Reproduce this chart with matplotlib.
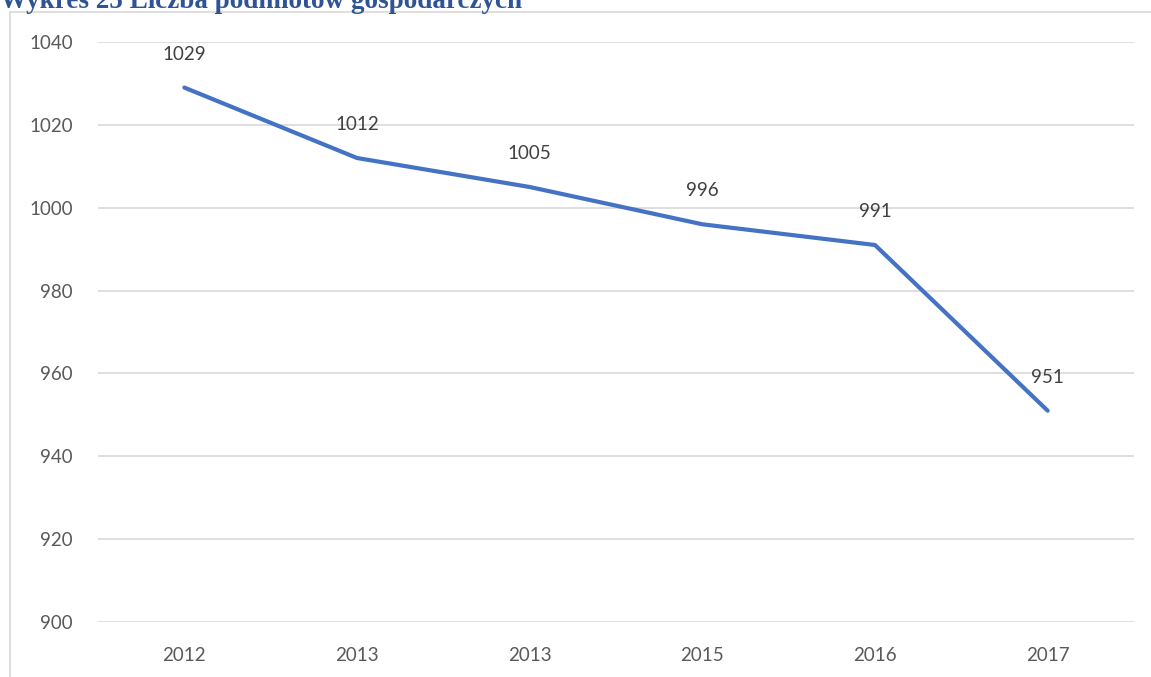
import matplotlib.pyplot as plt
from matplotlib.lines import Line2D

years = ['2012', '2013', '2013', '2015', '2016', '2017']
firms = [1029, 1012, 1005, 996, 991, 951]
yticks = [900, 920, 940, 960, 980, 1000, 1020, 1040]

W, H = 1151, 677
fig = plt.figure(figsize=(W / 100, H / 100), dpi=100)

# plot area in pixels: x 98..1134, y 42..622
ax = fig.add_axes([98 / W, 1 - 622 / H, (1134 - 98) / W, (622 - 42) / H])
x = list(range(len(years)))
ax.plot(x, firms, color='#4472C4', lw=3.0, solid_capstyle='round', solid_joinstyle='round')
for xi, v in zip(x, firms):
    ax.annotate(str(v), (xi, v), xytext=(0, 24), textcoords='offset points',
                ha='center', va='center', fontsize=13.5, color='#404040', family='Lato')

ax.set_xlim(-0.5, len(years) - 0.5)
ax.set_ylim(900, 1040)
ax.set_yticks(yticks)
ax.set_xticks(x)
ax.set_xticklabels(years)
ax.grid(axis='y', color='#D9D9D9', lw=1.2)
ax.set_axisbelow(True)
for s in ax.spines.values():
    s.set_visible(False)
ax.tick_params(length=0, labelsize=13.5, labelcolor='#595959', pad=0)
ax.tick_params(axis='y', pad=18)
ax.tick_params(axis='x', pad=18)
for lab in ax.get_xticklabels() + ax.get_yticklabels():
    lab.set_family('Lato')

# chart frame (partly outside the image)
fig.add_artist(Line2D([10 / W, 10 / W], [0, 1 - 12 / H], color='#D9D9D9', lw=1.2))
fig.add_artist(Line2D([10 / W, 1], [1 - 12 / H, 1 - 12 / H], color='#D9D9D9', lw=1.2))

fig.text(0, 1 - 8 / H, 'Wykres 25 Liczba podmiotów gospodarczych', ha='left', va='baseline',
         fontsize=19.5, fontweight='bold', color='#2F5496', family='Liberation Serif')

fig.savefig('out.png', dpi=100)
